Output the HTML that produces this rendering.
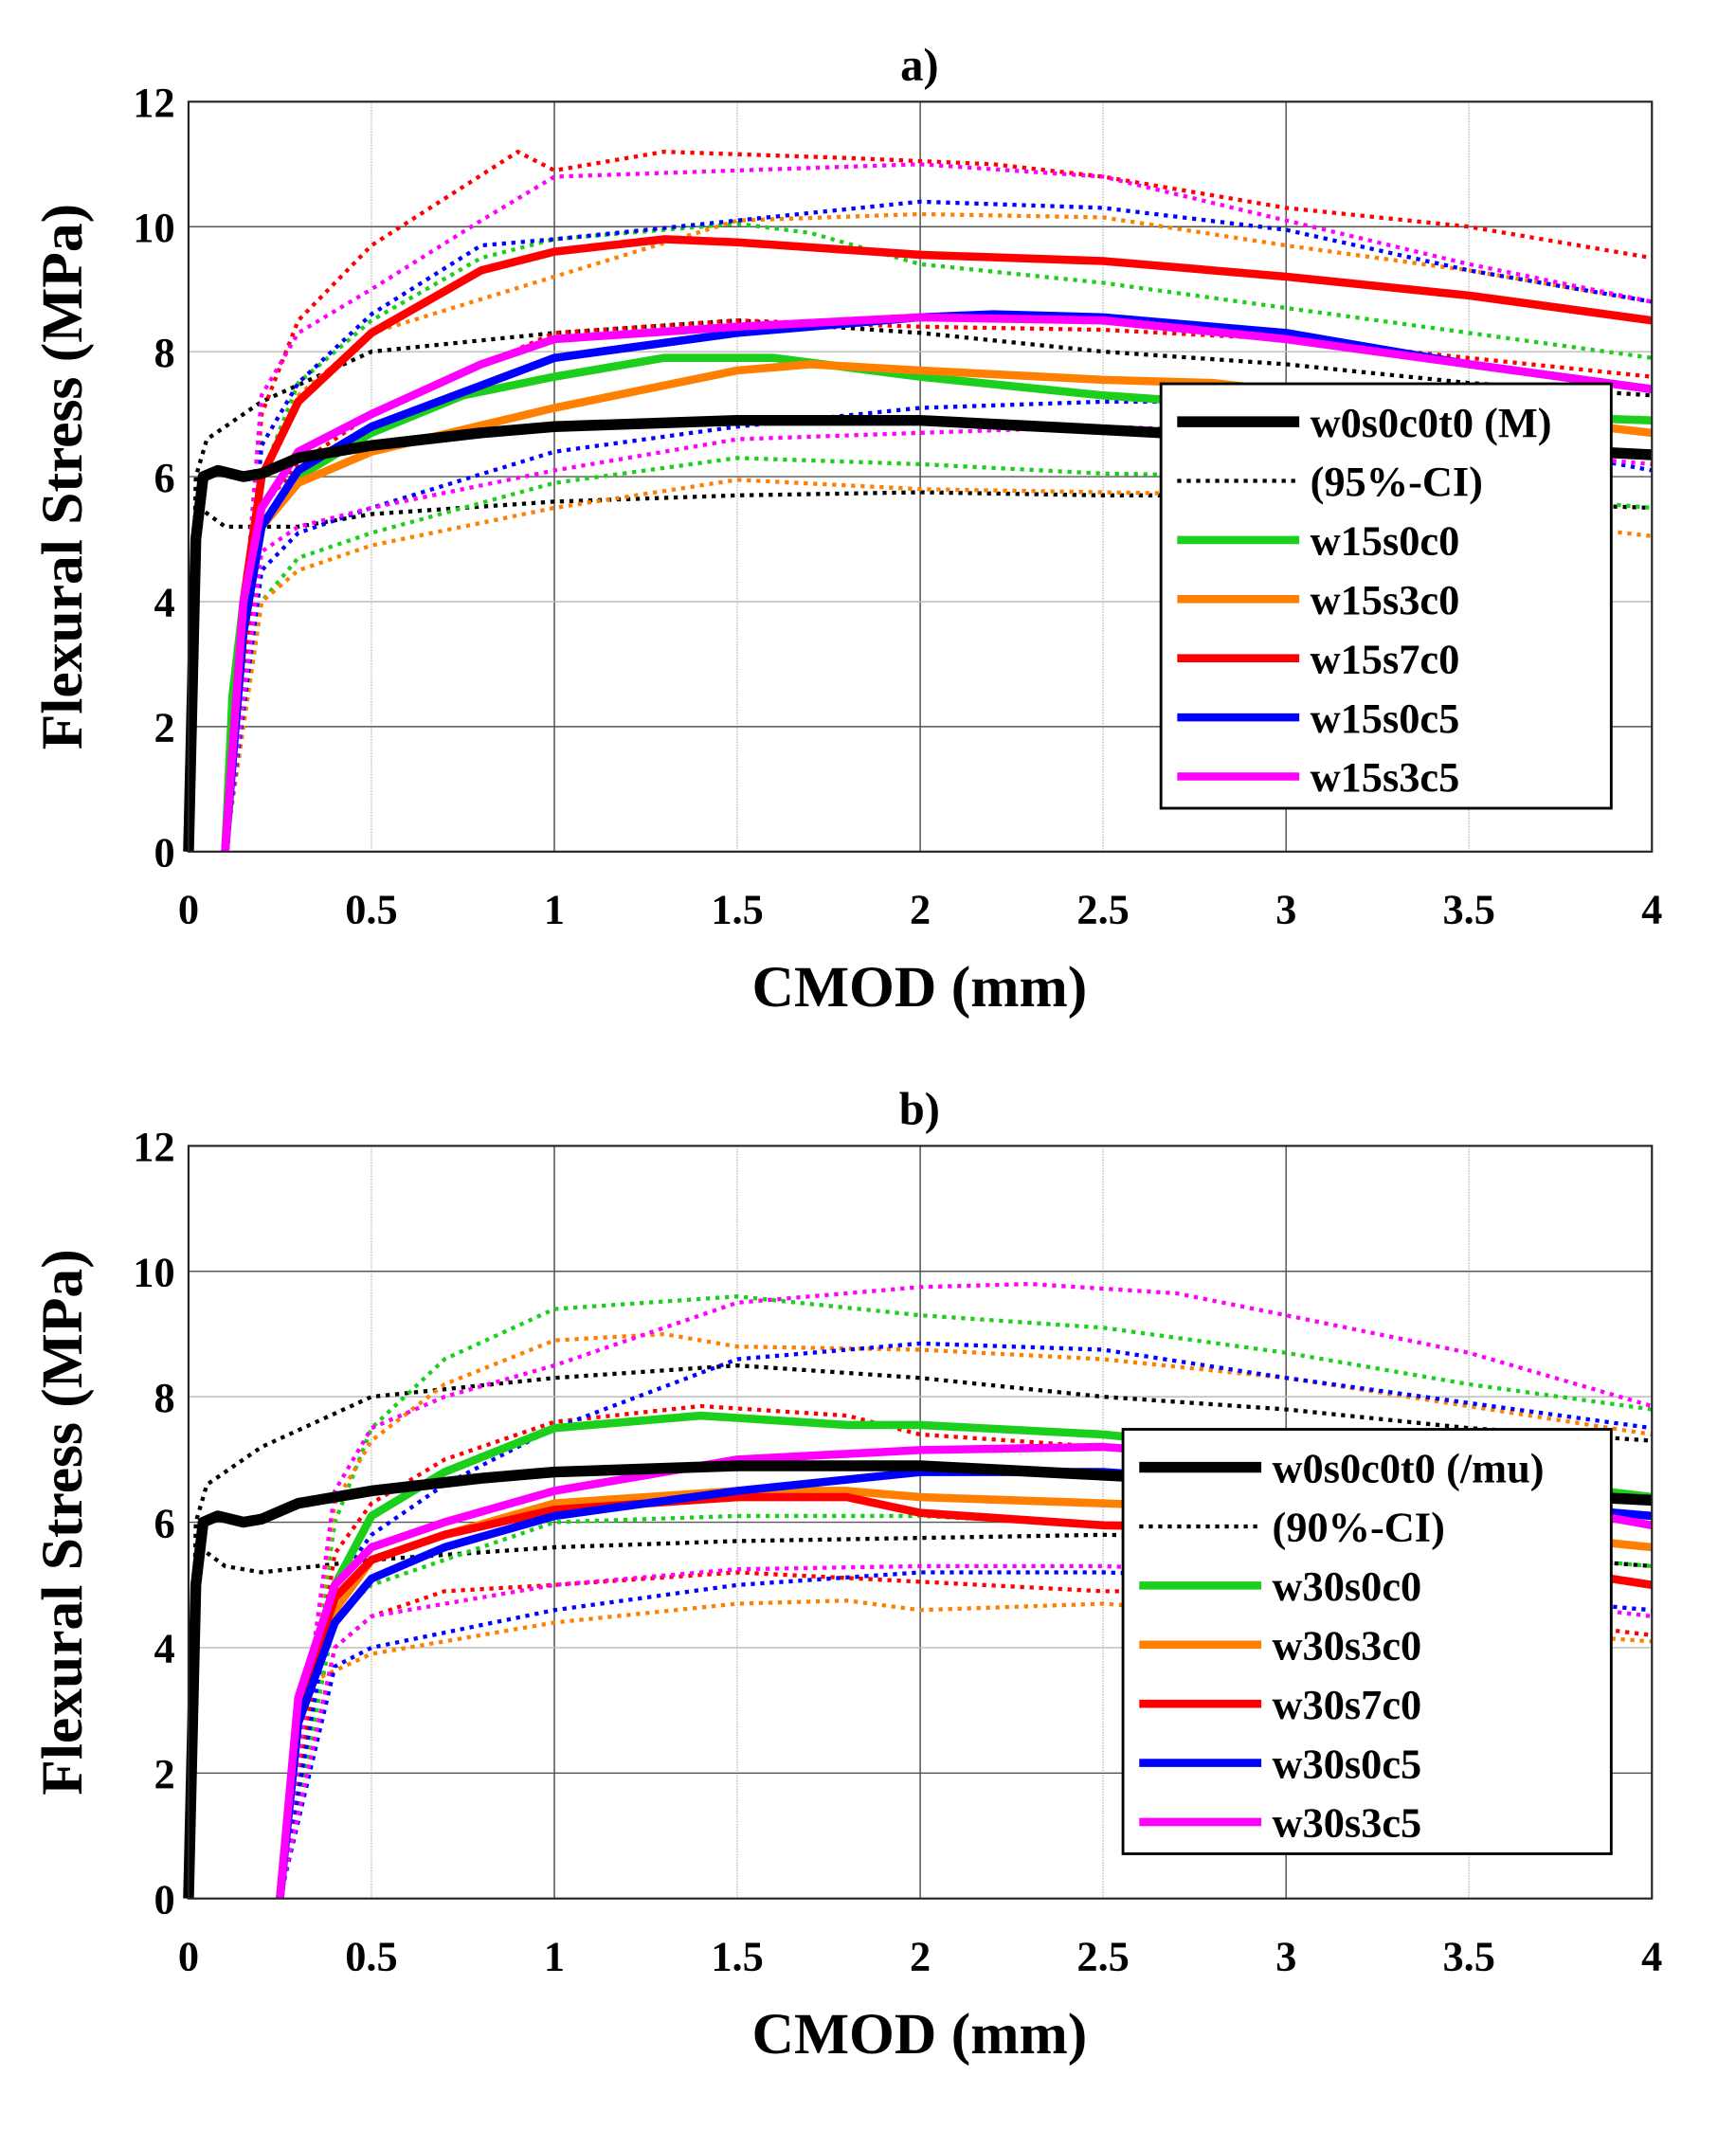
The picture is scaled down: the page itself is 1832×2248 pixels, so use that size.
<!DOCTYPE html>
<html><head><meta charset="utf-8"><style>html,body{margin:0;padding:0;background:#fff}svg{display:block}</style></head>
<body>
<svg id="s" xmlns="http://www.w3.org/2000/svg" width="1832" height="2248" viewBox="0 0 1280 1570.7" preserveAspectRatio="none" font-family="'Liberation Serif',serif" font-weight="bold">
<rect width="1280" height="1571" fill="#fff"/>
<g id="g"></g>
</svg>
<script>
var NS="http://www.w3.org/2000/svg",G=document.getElementById("g");
function el(t,a,txt){var e=document.createElementNS(NS,t);for(var k in a)e.setAttribute(k,a[k]);if(txt!==undefined)e.textContent=txt;G.appendChild(e);return e;}
var L=139,R=1218;
function plot(top,bot,title,series,legend,lx,ly,lw){
 var sx=(R-L)/4,sy=(bot-top)/12;
 function X(x){return L+x*sx}function Y(y){return bot-y*sy}
 for(var i=1;i<8;i++){el("line",{x1:X(i*0.5),x2:X(i*0.5),y1:top,y2:bot,stroke:"#bbb","stroke-width":1,"stroke-dasharray":i%2?"1,1":"none"});}
 for(var i=1;i<4;i++){el("line",{x1:X(i),x2:X(i),y1:top,y2:bot,stroke:"#555","stroke-width":1});}
 [2,4,6,8,10].forEach(function(v){el("line",{x1:L,x2:R,y1:Y(v),y2:Y(v),stroke:(v==2||v==6||v==10)?"#555":"#bbb","stroke-width":1});});
 series.forEach(function(s){var p=s.d.map(function(q){return X(q[0]).toFixed(1)+","+Y(q[1]).toFixed(1)}).join(" ");
  el("polyline",{points:p,fill:"none",stroke:s.c,"stroke-width":s.dot?3:(s.c=="#000"?8:6),"stroke-dasharray":s.dot?"3,4":"none","stroke-linejoin":"round"});});
 el("rect",{x:L,y:top,width:R-L,height:bot-top,fill:"none",stroke:"#222","stroke-width":1.5});
 for(var i=0;i<=8;i++){var v=i*0.5;el("text",{x:X(v),y:bot+53,"font-size":31,"text-anchor":"middle"},v);}
 for(var j=0;j<=6;j++){el("text",{x:L-10,y:Y(j*2)+11,"font-size":31,"text-anchor":"end"},j*2);}
 el("text",{x:678,y:top-16,"font-size":34,"text-anchor":"middle"},title);
 el("text",{x:678,y:bot+114,"font-size":43,"text-anchor":"middle"},"CMOD (mm)");
 var cy=(top+bot)/2;
 el("text",{x:60,y:cy,"font-size":43,"text-anchor":"middle",transform:"rotate(-90 60 "+cy+")"},"Flexural Stress (MPa)");
 el("rect",{x:lx,y:ly,width:lw,height:313,fill:"#fff",stroke:"#000","stroke-width":2});
 legend.forEach(function(e,k){var yy=ly+28+k*43.6;
  el("line",{x1:lx+12,x2:lx+102,y1:yy,y2:yy,stroke:e[1],"stroke-width":e[2]?3:(e[1]=="#000"?8:6),"stroke-dasharray":e[2]?"3,4":"none"});
  el("text",{x:lx+110,y:yy+11,"font-size":31},e[0]);});
}
var K="#000",GR="#1ccf1c",OR="#ff8000",RD="#ff0000",BL="#0000ff",MG="#ff00ff";
var blackM=[[0,0],[0.02,5],[0.04,6],[0.08,6.1],[0.15,6.0],[0.2,6.05],[0.3,6.3],[0.5,6.5],[0.8,6.7],[1,6.8],[1.5,6.9],[2,6.9],[2.5,6.75],[3,6.6],[3.5,6.5],[4,6.35]];
var blackU=[[0,0],[0.02,6],[0.05,6.6],[0.2,7.2],[0.5,8],[1,8.3],[1.5,8.5],[2,8.3],[2.5,8],[3,7.8],[3.5,7.5],[4,7.3]];
var a=[
{c:K,dot:1,d:blackU},{c:K,dot:1,d:[[0,0],[0.03,5.5],[0.1,5.2],[0.3,5.2],[0.5,5.4],[1,5.6],[1.5,5.7],[2,5.75],[2.5,5.7],[3,5.7],[4,5.5]]},
{c:GR,dot:1,d:[[0.1,0],[0.2,6],[0.3,7.5],[0.5,8.5],[0.8,9.5],[1,9.8],[1.5,10.05],[1.7,9.9],[2,9.4],[2.5,9.1],[3,8.7],[3.5,8.3],[4,7.9]]},
{c:GR,dot:1,d:[[0.1,0],[0.2,4],[0.3,4.7],[0.5,5.1],[1,5.9],[1.5,6.3],[2,6.2],[2.5,6.05],[3,6],[4,5.5]]},
{c:OR,dot:1,d:[[0.1,0],[0.2,6],[0.3,7.3],[0.5,8.3],[1,9.2],[1.5,10.1],[2,10.2],[2.5,10.15],[3,9.7],[3.5,9.3],[4,8.8]]},
{c:OR,dot:1,d:[[0.1,0],[0.2,4],[0.3,4.5],[0.5,4.9],[1,5.5],[1.5,5.95],[2,5.8],[3,5.7],[4,5.05]]},
{c:RD,dot:1,d:[[0.1,0],[0.2,7],[0.3,8.5],[0.5,9.7],[0.9,11.2],[1,10.9],[1.3,11.2],[1.8,11.1],[2.2,11],[2.5,10.8],[3,10.3],[3.5,10],[4,9.5]]},
{c:RD,dot:1,d:[[0.1,0],[0.2,5.5],[0.3,6.2],[0.5,7],[1,8.3],[1.5,8.5],[2,8.4],[2.5,8.35],[3,8.2],[4,7.6]]},
{c:BL,dot:1,d:[[0.1,0],[0.2,6.5],[0.3,7.5],[0.5,8.6],[0.8,9.7],[1,9.8],[1.5,10.1],[2,10.4],[2.5,10.3],[3,9.95],[3.5,9.3],[4,8.8]]},
{c:BL,dot:1,d:[[0.1,0],[0.2,4.5],[0.3,5.1],[0.5,5.5],[1,6.4],[1.5,6.8],[2,7.1],[2.5,7.2],[3,7.2],[4,6.1]]},
{c:MG,dot:1,d:[[0.1,0],[0.2,7.3],[0.3,8.3],[0.5,9],[0.8,10.1],[1,10.8],[1.5,10.9],[2,11],[2.5,10.8],[3,10.1],[3.5,9.4],[4,8.8]]},
{c:MG,dot:1,d:[[0.1,0],[0.2,4.8],[0.3,5.2],[0.5,5.5],[1,6.1],[1.5,6.6],[2,6.7],[2.5,6.8],[3,6.7],[4,6.2]]},
{c:GR,d:[[0.1,0],[0.12,2.5],[0.15,4],[0.2,5.2],[0.3,6],[0.5,6.7],[0.75,7.3],[1,7.6],[1.3,7.9],[1.6,7.9],[2,7.6],[2.5,7.3],[3,7.1],[4,6.9]]},
{c:OR,d:[[0.1,0],[0.15,4],[0.2,5.2],[0.3,5.9],[0.5,6.4],[1,7.1],[1.5,7.7],[1.7,7.8],[2,7.7],[2.5,7.55],[2.8,7.5],[4,6.7]]},
{c:RD,d:[[0.1,0],[0.15,4],[0.2,6],[0.3,7.2],[0.5,8.3],[0.8,9.3],[1,9.6],[1.3,9.8],[1.5,9.75],[2,9.55],[2.5,9.45],[3,9.2],[3.5,8.9],[4,8.5]]},
{c:BL,d:[[0.1,0],[0.15,3.5],[0.2,5.2],[0.3,6.1],[0.5,6.8],[1,7.9],[1.5,8.3],[2,8.55],[2.2,8.6],[2.5,8.55],[3,8.3],[3.5,7.8],[4,7.4]]},
{c:MG,d:[[0.1,0],[0.15,4],[0.2,5.5],[0.3,6.4],[0.5,7],[0.8,7.8],[1,8.2],[1.5,8.4],[2,8.55],[2.5,8.5],[3,8.2],[3.5,7.8],[4,7.4]]},
{c:K,d:blackM}];
var b=[
{c:K,dot:1,d:blackU},{c:K,dot:1,d:[[0,0],[0.03,5.6],[0.1,5.3],[0.2,5.2],[0.5,5.4],[1,5.6],[1.5,5.7],[2,5.75],[2.5,5.8],[3,5.75],[4,5.3]]},
{c:GR,dot:1,d:[[0.25,0],[0.4,6],[0.5,7.5],[0.7,8.6],[1,9.4],[1.5,9.6],[2,9.3],[2.5,9.1],[3,8.7],[3.5,8.2],[4,7.8]]},
{c:GR,dot:1,d:[[0.25,0],[0.4,4.5],[0.5,5],[0.7,5.4],[1,6],[1.5,6.1],[2,6.1],[3,5.8],[4,5.3]]},
{c:OR,dot:1,d:[[0.25,0],[0.4,6.3],[0.5,7.3],[0.7,8.2],[1,8.9],[1.3,9],[1.5,8.8],[2,8.75],[2.5,8.6],[3,8.3],[4,7.4]]},
{c:OR,dot:1,d:[[0.25,0],[0.35,3.5],[0.5,3.9],[1,4.4],[1.5,4.7],[1.8,4.75],[2,4.6],[2.5,4.7],[3,4.5],[4,4.1]]},
{c:RD,dot:1,d:[[0.25,0],[0.4,5.5],[0.5,6.3],[0.7,7],[1,7.6],[1.4,7.85],[1.8,7.7],[2,7.4],[2.5,7.2],[3,7],[4,6.3]]},
{c:RD,dot:1,d:[[0.25,0],[0.4,4],[0.5,4.5],[0.7,4.9],[1,5.0],[1.5,5.2],[2,5.05],[2.5,4.9],[3,4.9],[4,4.2]]},
{c:BL,dot:1,d:[[0.25,0],[0.4,5],[0.5,5.8],[0.7,6.6],[1,7.5],[1.5,8.6],[2,8.85],[2.5,8.75],[3,8.3],[3.5,7.9],[4,7.5]]},
{c:BL,dot:1,d:[[0.25,0],[0.4,3.7],[0.5,4],[1,4.6],[1.5,5],[2,5.2],[2.5,5.2],[3,5.1],[4,4.6]]},
{c:MG,dot:1,d:[[0.25,0],[0.4,6.5],[0.5,7.5],[0.7,8],[1,8.5],[1.5,9.5],[2,9.75],[2.3,9.8],[2.7,9.65],[3,9.3],[3.5,8.7],[4,7.85]]},
{c:MG,dot:1,d:[[0.25,0],[0.4,4],[0.5,4.5],[1,5],[1.5,5.25],[2,5.3],[2.5,5.3],[3,5.2],[4,4.5]]},
{c:GR,d:[[0.25,0],[0.3,3],[0.4,5],[0.5,6.1],[0.7,6.8],[1,7.5],[1.4,7.7],[1.8,7.55],[2,7.55],[2.5,7.4],[3,7.1],[4,6.4]]},
{c:OR,d:[[0.25,0],[0.3,3],[0.4,4.6],[0.5,5.4],[0.7,5.8],[1,6.3],[1.5,6.5],[1.8,6.5],[2,6.4],[2.5,6.3],[3,6.2],[4,5.6]]},
{c:RD,d:[[0.25,0],[0.3,3],[0.4,4.8],[0.5,5.4],[0.7,5.8],[1,6.2],[1.5,6.4],[1.8,6.4],[2,6.15],[2.5,5.95],[3,5.9],[4,5.0]]},
{c:BL,d:[[0.25,0],[0.3,2.8],[0.4,4.4],[0.5,5.1],[0.7,5.6],[1,6.1],[1.5,6.5],[2,6.8],[2.5,6.8],[3,6.6],[4,6.1]]},
{c:MG,d:[[0.25,0],[0.3,3.2],[0.4,5],[0.5,5.6],[0.7,6],[1,6.5],[1.5,7],[2,7.15],[2.5,7.2],[3,7],[4,5.95]]},
{c:K,d:blackM}];
plot(75,628,"a)",a,[["w0s0c0t0 (M)",K],["(95%-CI)",K,1],["w15s0c0",GR],["w15s3c0",OR],["w15s7c0",RD],["w15s0c5",BL],["w15s3c5",MG]],856,283,332);
plot(845,1400,"b)",b,[["w0s0c0t0 (/mu)",K],["(90%-CI)",K,1],["w30s0c0",GR],["w30s3c0",OR],["w30s7c0",RD],["w30s0c5",BL],["w30s3c5",MG]],828,1054,360);
</script>
</body></html>
